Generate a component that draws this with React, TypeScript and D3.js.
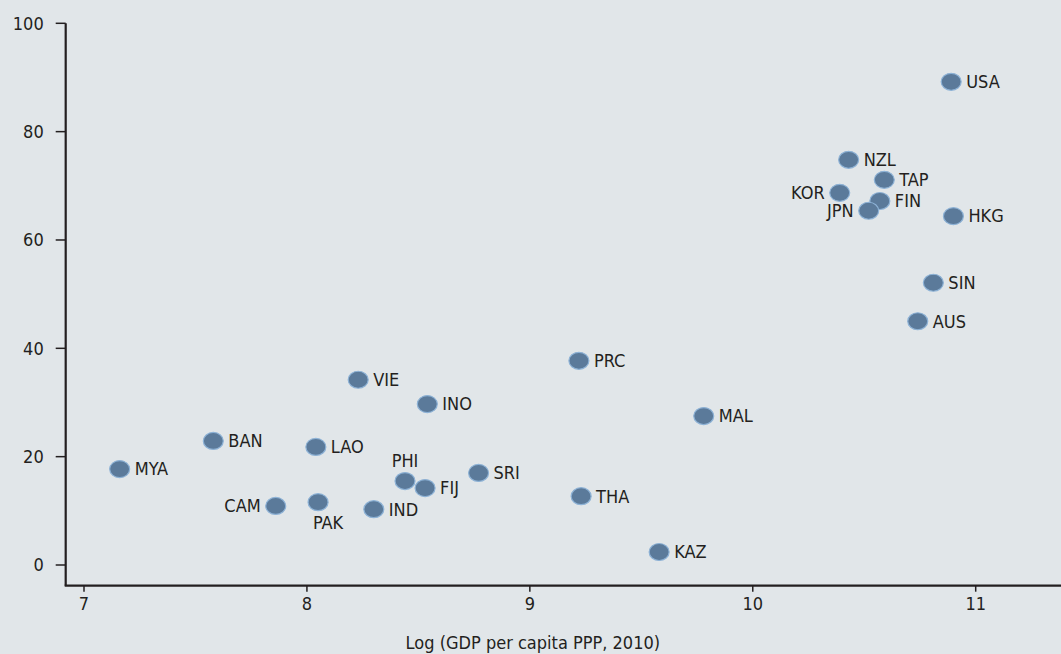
import React from 'react';
import * as d3 from 'd3';

const countries = ['USA', 'NZL', 'TAP', 'KOR', 'FIN', 'JPN', 'HKG', 'SIN', 'AUS', 'PRC', 'VIE', 'INO', 'MAL', 'BAN', 'LAO', 'MYA', 'PHI', 'SRI', 'FIJ', 'CAM', 'PAK', 'IND', 'THA', 'KAZ'];
const logGdp = [10.89, 10.43, 10.59, 10.39, 10.57, 10.52, 10.9, 10.81, 10.74, 9.22, 8.23, 8.54, 9.78, 7.58, 8.04, 7.16, 8.44, 8.77, 8.53, 7.86, 8.05, 8.3, 9.23, 9.58];
const scores = [89.2, 74.8, 71.1, 68.7, 67.2, 65.4, 64.4, 52.1, 45.0, 37.7, 34.2, 29.7, 27.5, 22.9, 21.8, 17.7, 15.5, 17.0, 14.2, 10.9, 11.6, 10.3, 12.7, 2.4];
const xTicks = [7, 8, 9, 10, 11];
const yTicks = [0, 20, 40, 60, 80, 100];
const xTitle = 'Log (GDP per capita PPP, 2010)';

// which side of the dot the label sits on
const leftLabels = ['KOR', 'JPN', 'CAM'];
const topLabels = ['PHI'];
const bottomLabels = ['PAK'];

const W = 1061;
const H = 654;
const ink = '#231f20';
const font = '"DejaVu Sans Condensed", sans-serif';

const App = () => {
  const x = d3.scaleLinear().domain([7, 11]).range([84, 975.7]);
  const y = d3.scaleLinear().domain([0, 100]).range([565, 23.3]);
  const axisY = 585.7;
  const axisX = 65.7;

  return (
    <svg width={W} height={H} style={{ position: 'fixed', left: 0, top: 0, background: '#e1e6e9' }}>
      <rect width={W} height={H} fill="#e1e6e9" />
      {/* y axis */}
      <line x1={axisX} x2={axisX} y1={y(100)} y2={axisY} stroke={ink} strokeWidth={2.2} />
      {yTicks.map(t => (
        <g key={t}>
          <line x1={axisX - 10} x2={axisX} y1={y(t)} y2={y(t)} stroke={ink} strokeWidth={1.5} />
          <text x={axisX - 22} y={y(t)} dy="0.35em" textAnchor="end" fontSize={18} fontFamily={font} fill={ink}>{t}</text>
        </g>
      ))}
      {/* x axis */}
      <line x1={axisX - 1} x2={W} y1={axisY} y2={axisY} stroke={ink} strokeWidth={2.2} />
      {xTicks.map(t => (
        <g key={t}>
          <line x1={x(t)} x2={x(t)} y1={axisY} y2={axisY + 6} stroke={ink} strokeWidth={1.5} />
          <text x={x(t)} y={axisY + 24} textAnchor="middle" fontSize={18} fontFamily={font} fill={ink}>{t}</text>
        </g>
      ))}
      <text x={x(9) + 3} y={H - 5} textAnchor="middle" fontSize={18} fontFamily={font} fill={ink}>{xTitle}</text>
      {/* points */}
      {countries.map((c, i) => {
        const cx = x(logGdp[i]);
        const cy = y(scores[i]);
        let lx = cx + 15;
        let ly = cy;
        let anchor = 'start';
        if (leftLabels.includes(c)) { lx = cx - 15; anchor = 'end'; }
        if (topLabels.includes(c)) { lx = cx; ly = cy - 20; anchor = 'middle'; }
        if (bottomLabels.includes(c)) { lx = cx + 10; ly = cy + 21; anchor = 'middle'; }
        return (
          <g key={c}>
            <ellipse cx={cx} cy={cy} rx={10} ry={8.5} fill="#5b7a9a" stroke="#8db2d6" strokeWidth={1.2} />
            <text x={lx} y={ly} dy="0.35em" textAnchor={anchor} fontSize={18} fontFamily={font} fill={ink}>{c}</text>
          </g>
        );
      })}
    </svg>
  );
};

export default App;
